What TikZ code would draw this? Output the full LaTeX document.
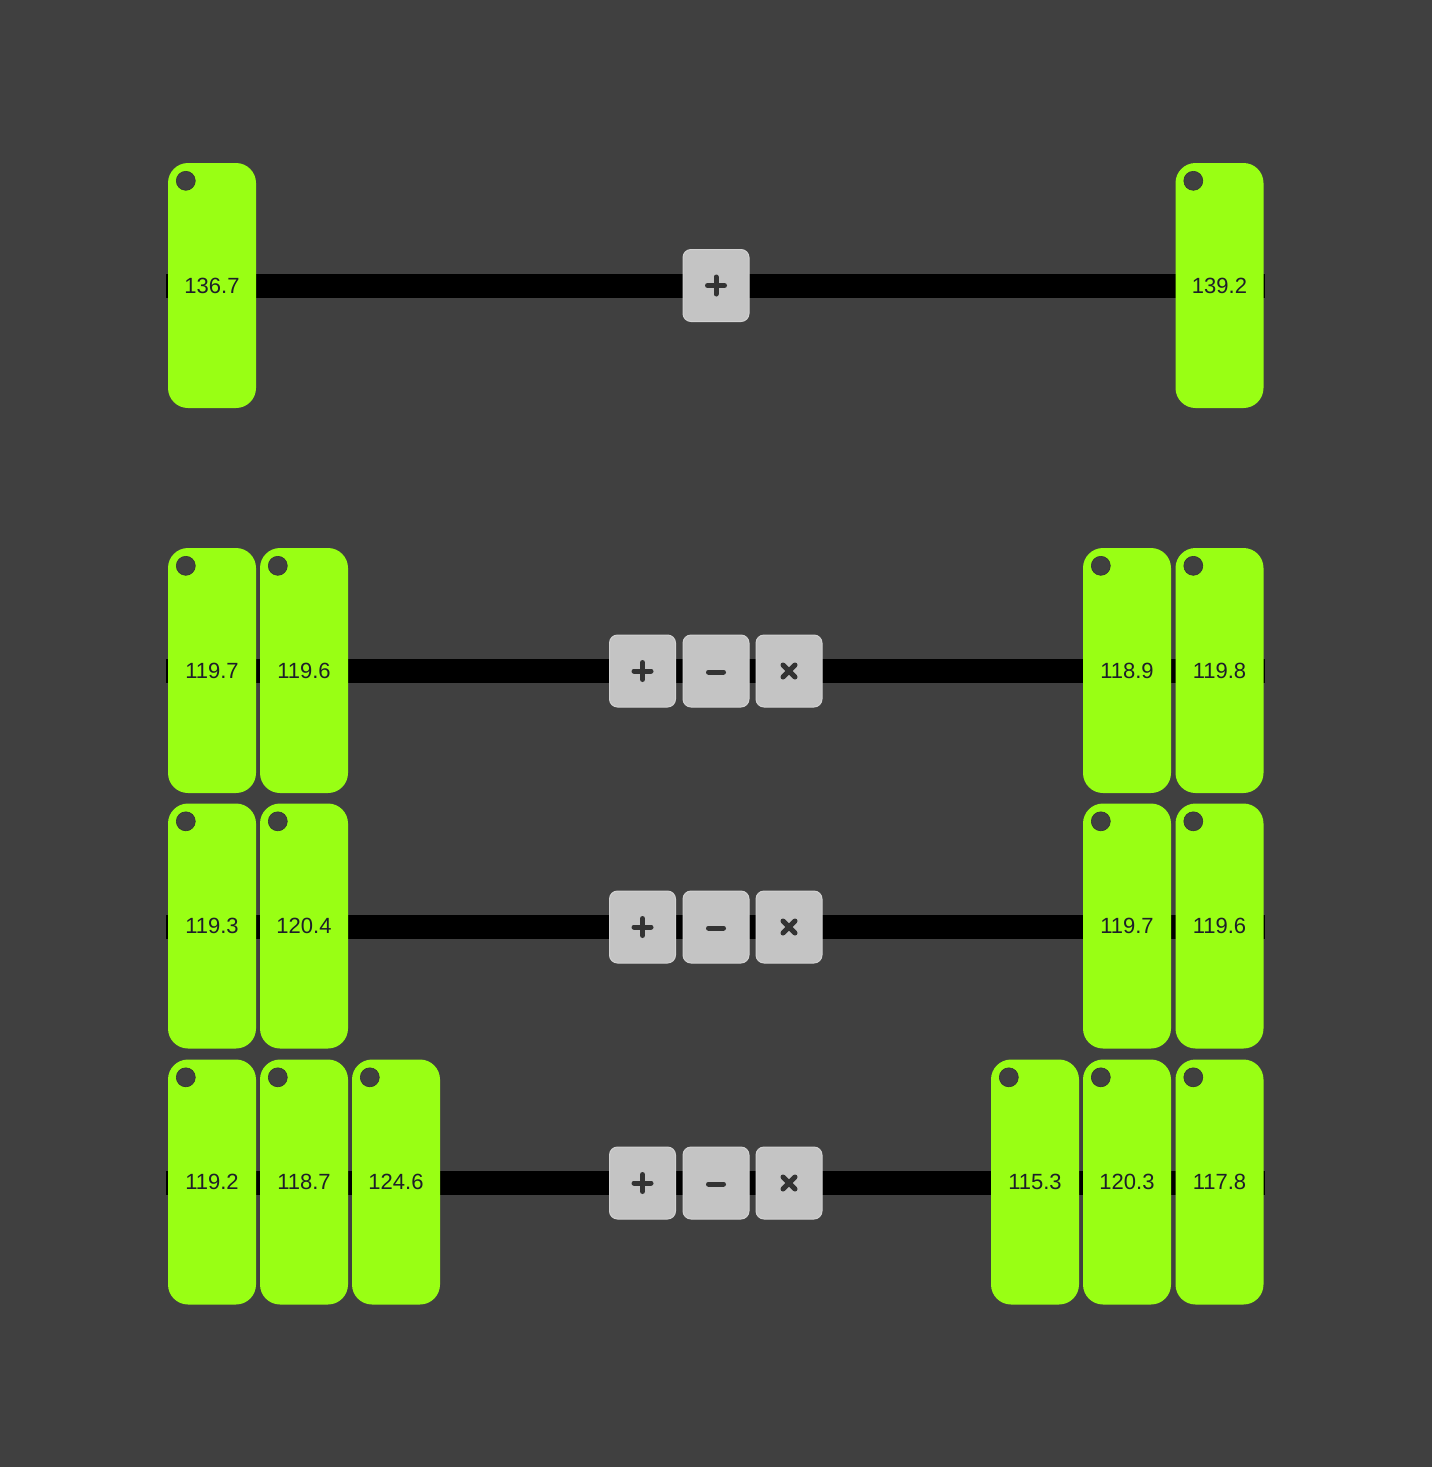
\documentclass[tikz,border=0pt]{standalone}
\usepackage{fontspec}
\setmainfont{Liberation Sans}
\definecolor{bg}{HTML}{404040}
\definecolor{plategreen}{HTML}{99FF14}
\definecolor{btnfill}{HTML}{C4C4C4}
\definecolor{btnedge}{HTML}{D2D2D2}
\definecolor{symcol}{HTML}{333333}
\definecolor{txtcol}{HTML}{1E1E2A}
\tikzset{
  plate/.style={fill=plategreen, rounded corners=20pt, minimum width=88pt, minimum height=245pt,
    inner sep=0pt, text=txtcol, font=\fontsize{22}{22}\selectfont},
  btnbox/.style={fill=btnfill, draw=btnedge, line width=1pt, rounded corners=8pt, minimum width=66pt,
    minimum height=72pt, inner sep=0pt},
  barline/.style={line width=24pt, black},
  symline/.style={line width=5pt, symcol, line cap=round},
  hole/.style={fill=bg, draw=bg!80!black, line width=0.6pt}
}
\newcommand\plussym[1]{\draw[symline] ([shift={(-8.5,0)}]#1.center) -- ([shift={(8.5,0)}]#1.center);
  \draw[symline] ([shift={(0,-8.5)}]#1.center) -- ([shift={(0,8.5)}]#1.center);}
\newcommand\minussym[1]{\draw[symline] ([shift={(-7.5,1)}]#1.center) -- ([shift={(7.5,1)}]#1.center);}
\newcommand\timessym[1]{\draw[symline] ([shift={(-6,-6)}]#1.center) -- ([shift={(6,6)}]#1.center);
  \draw[symline] ([shift={(-6,6)}]#1.center) -- ([shift={(6,-6)}]#1.center);}
\begin{document}
\begin{tikzpicture}[x=1pt,y=-1pt]
\fill[bg] (0,0) rectangle (1432,1467);
\useasboundingbox (0,0) rectangle (1432,1467);
% bars
\foreach \r/\y in {1/286, 2/671, 3/927, 4/1183} {
  \coordinate (bar\r L) at (166,\y);
  \coordinate (bar\r R) at (1265,\y);
  \draw[barline] (bar\r L) -- (bar\r R);
}
% plates
\foreach \n/\x/\y/\t in {
  p1a/212/285.5/136.7, p1b/1219.5/285.5/139.2,
  p2a/212/670.5/119.7, p2b/304/670.5/119.6, p2c/1127/670.5/118.9, p2d/1219.5/670.5/119.8,
  p3a/212/926/119.3, p3b/304/926/120.4, p3c/1127/926/119.7, p3d/1219.5/926/119.6,
  p4a/212/1182/119.2, p4b/304/1182/118.7, p4c/396/1182/124.6,
  p4d/1035/1182/115.3, p4e/1127/1182/120.3, p4f/1219.5/1182/117.8} {
  \node[plate] (\n) at (\x,\y) {\t};
  \filldraw[hole] ([shift={(18,18)}]\n.north west) circle[radius=9.5];
}
% buttons
\node[btnbox] (b1p) at (716,285.5) {};
\plussym{b1p}
\foreach \r/\y in {2/671, 3/927, 4/1183} {
  \node[btnbox] (b\r p) at (642.5,\y) {};
  \node[btnbox] (b\r m) at (716,\y) {};
  \node[btnbox] (b\r t) at (789,\y) {};
  \plussym{b\r p}
  \minussym{b\r m}
  \timessym{b\r t}
}
\end{tikzpicture}
\end{document}
